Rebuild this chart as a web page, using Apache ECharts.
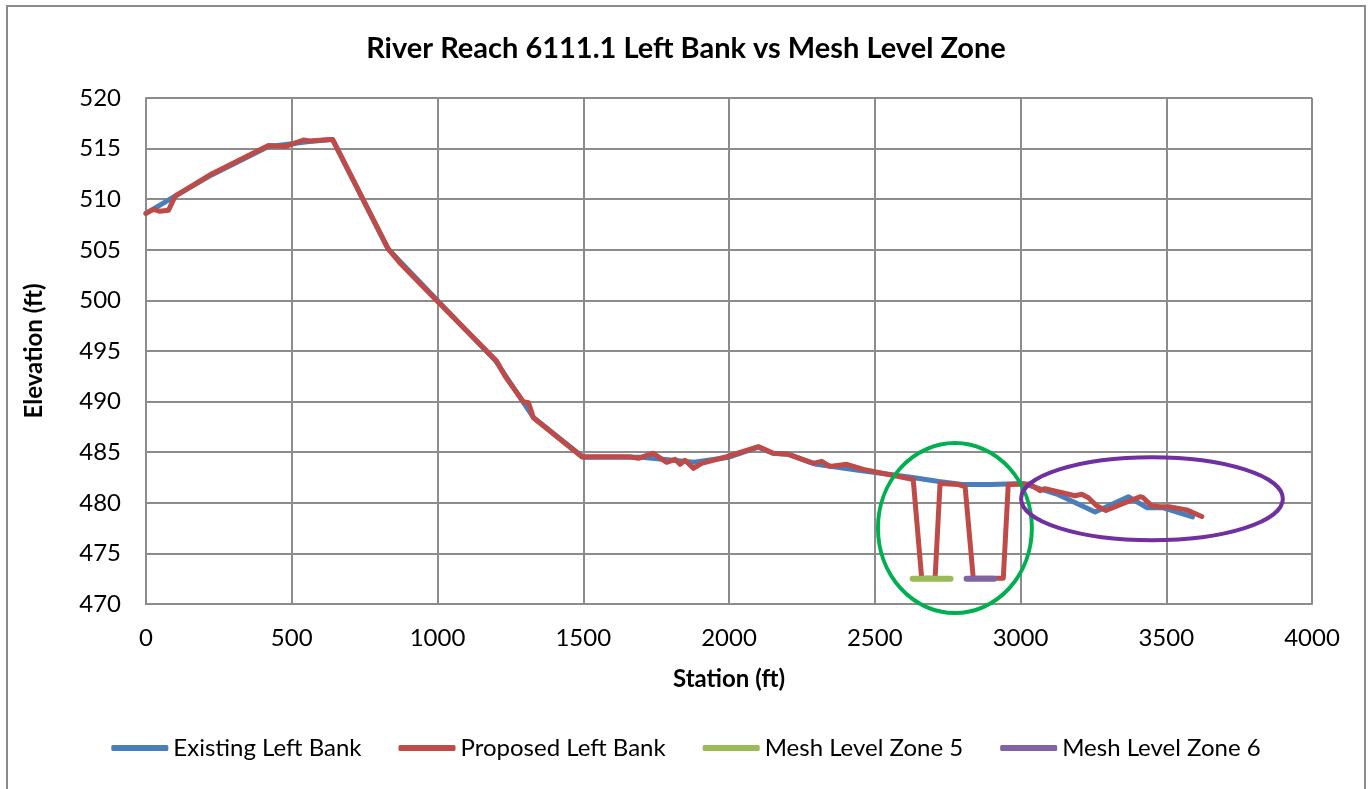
<!DOCTYPE html>
<html>
<head>
<meta charset="utf-8">
<title>River Reach 6111.1 Left Bank vs Mesh Level Zone</title>
<script src="https://cdn.jsdelivr.net/npm/echarts@6/dist/echarts.min.js"></script>
<style>
  html, body { margin: 0; padding: 0; background: #ffffff; }
  #chart { width: 1372px; height: 789px; }
</style>
</head>
<body>
<div id="chart"></div>
<script>
// Station (ft) / elevation (ft) pairs along the left bank
const existingLeftBank = [
  [0, 508.6], [100, 510.3], [225, 512.4], [420, 515.2], [480, 515.4], [560, 515.7],
  [640, 515.9], [830, 505.1], [880, 503.6], [1000, 500.0], [1200, 494.0], [1330, 488.4],
  [1500, 484.5], [1700, 484.5], [1880, 484.0], [2000, 484.5], [2100, 485.5], [2150, 484.9],
  [2200, 484.8], [2300, 483.8], [2450, 483.2], [2630, 482.5], [2720, 482.1], [2800, 481.8],
  [2900, 481.8], [3010, 481.9], [3130, 480.8], [3256, 479.1], [3370, 480.6], [3435, 479.5],
  [3490, 479.5], [3590, 478.6]
];

const proposedLeftBank = [
  [0, 508.6], [25, 509.0], [48, 508.8], [77, 508.9], [100, 510.3], [225, 512.5],
  [420, 515.3], [477, 515.2], [540, 515.85], [563, 515.75], [631, 515.9], [640, 515.9],
  [831, 505.1], [871, 503.7], [997, 500.0], [1203, 494.0], [1232, 492.5], [1294, 490.0],
  [1312, 489.9], [1329, 488.4], [1495, 484.55], [1660, 484.55], [1689, 484.4], [1740, 484.9],
  [1786, 484.0], [1815, 484.3], [1832, 483.8], [1849, 484.2], [1878, 483.4], [1906, 483.9],
  [1992, 484.55], [2101, 485.55], [2152, 484.9], [2203, 484.8], [2289, 483.9], [2318, 484.1],
  [2346, 483.6], [2404, 483.8], [2461, 483.3], [2632, 482.3], [2661, 472.55], [2707, 472.55],
  [2724, 481.9], [2787, 481.8], [2810, 481.6], [2838, 472.55], [2941, 472.55], [2958, 481.8],
  [3033, 481.85], [3067, 481.2], [3084, 481.4], [3187, 480.7], [3210, 480.85], [3233, 480.5],
  [3261, 479.7], [3293, 479.25], [3410, 480.6], [3421, 480.5], [3450, 479.7], [3478, 479.6],
  [3513, 479.6], [3570, 479.3], [3622, 478.65]
];

const meshLevelZone5 = [[2630, 472.5], [2760, 472.5]];
const meshLevelZone6 = [[2815, 472.5], [2910, 472.5]];

// Highlight rings: [centre station, centre elevation, half-width (ft), half-height (ft)]
const zoneRing = [2775, 477.5, 264, 8.4];
const downstreamRing = [3451, 480.4, 449, 4.1];

const xTicks = { min: 0, max: 4000, interval: 500 };
const yTicks = { min: 470, max: 520, interval: 5 };

const FONT = 'Lato, "Open Sans", sans-serif';
const GRID = '#8c8c8c';

const chart = echarts.init(document.getElementById('chart'), null, { renderer: 'canvas' });

function ringItem(color) {
  return function (params, api) {
    const c = api.coord([api.value(0), api.value(1)]);
    const s = api.size([api.value(2), api.value(3)]);
    const rx = s[0], ry = s[1];
    const x = c[0], y = c[1];
    return {
      type: 'path',
      shape: {
        pathData: `M ${x - rx} ${y} A ${rx} ${ry} 0 1 0 ${x + rx} ${y} A ${rx} ${ry} 0 1 0 ${x - rx} ${y} Z`
      },
      style: { fill: 'none', stroke: color, lineWidth: 4 }
    };
  };
}

const lineBase = {
  type: 'line',
  symbol: 'none',
  showSymbol: false,
  animation: false,
  lineStyle: { width: 5, cap: 'round', join: 'round' }
};

chart.setOption({
  animation: false,
  backgroundColor: '#ffffff',
  title: {
    text: 'River Reach 6111.1 Left Bank vs Mesh Level Zone',
    left: 'center',
    top: 29,
    textStyle: { fontFamily: FONT, fontWeight: 'bold', fontSize: 29, color: '#000' }
  },
  graphic: [{
    type: 'rect',
    shape: { x: 7, y: 6, width: 1358, height: 820 },
    style: { fill: 'none', stroke: GRID, lineWidth: 2 },
    silent: true,
    z: 0
  }],
  grid: { left: 146, right: 60, top: 98, bottom: 185, containLabel: false },
  legend: {
    data: ['Existing Left Bank', 'Proposed Left Bank', 'Mesh Level Zone 5', 'Mesh Level Zone 6'],
    bottom: 24,
    left: 'center',
    icon: 'roundRect',
    itemWidth: 57,
    itemHeight: 6,
    itemGap: 37,
    textStyle: { fontFamily: FONT, fontSize: 24, color: '#000' }
  },
  xAxis: {
    type: 'value',
    min: xTicks.min, max: xTicks.max, interval: xTicks.interval,
    name: 'Station (ft)',
    nameLocation: 'middle',
    nameGap: 63,
    nameTextStyle: { fontFamily: FONT, fontWeight: 'bold', fontSize: 24, color: '#000' },
    axisLine: { show: true, lineStyle: { color: GRID, width: 2 } },
    axisTick: { show: false },
    axisLabel: { fontFamily: FONT, fontSize: 24, color: '#000', margin: 22, formatter: v => String(v) },
    splitLine: { show: true, lineStyle: { color: GRID, width: 2 } }
  },
  yAxis: {
    type: 'value',
    min: yTicks.min, max: yTicks.max, interval: yTicks.interval,
    name: 'Elevation (ft)',
    nameLocation: 'middle',
    nameGap: 100,
    nameTextStyle: { fontFamily: FONT, fontWeight: 'bold', fontSize: 24, color: '#000' },
    axisLine: { show: true, lineStyle: { color: GRID, width: 2 } },
    axisTick: { show: false },
    axisLabel: { fontFamily: FONT, fontSize: 24, color: '#000', margin: 25, formatter: v => String(v) },
    splitLine: { show: true, lineStyle: { color: GRID, width: 2 } }
  },
  series: [
    Object.assign({}, lineBase, {
      name: 'Existing Left Bank', data: existingLeftBank,
      itemStyle: { color: '#4a7ebb' },
      lineStyle: Object.assign({}, lineBase.lineStyle, { color: '#4a7ebb' }), z: 2
    }),
    Object.assign({}, lineBase, {
      name: 'Proposed Left Bank', data: proposedLeftBank,
      itemStyle: { color: '#be4b48' },
      lineStyle: Object.assign({}, lineBase.lineStyle, { color: '#be4b48' }), z: 3
    }),
    Object.assign({}, lineBase, {
      name: 'Mesh Level Zone 5', data: meshLevelZone5,
      itemStyle: { color: '#9bbb59' },
      lineStyle: Object.assign({}, lineBase.lineStyle, { color: '#9bbb59', width: 6 }), z: 4
    }),
    Object.assign({}, lineBase, {
      name: 'Mesh Level Zone 6', data: meshLevelZone6,
      itemStyle: { color: '#8064a2' },
      lineStyle: Object.assign({}, lineBase.lineStyle, { color: '#8064a2', width: 6 }), z: 4
    }),
    {
      type: 'custom', name: 'zoneRing', data: [zoneRing],
      renderItem: ringItem('#00b050'), clip: false, silent: true, z: 5,
      encode: { x: 0, y: 1 }
    },
    {
      type: 'custom', name: 'downstreamRing', data: [downstreamRing],
      renderItem: ringItem('#7030a0'), clip: false, silent: true, z: 5,
      encode: { x: 0, y: 1 }
    }
  ]
});
</script>
</body>
</html>
